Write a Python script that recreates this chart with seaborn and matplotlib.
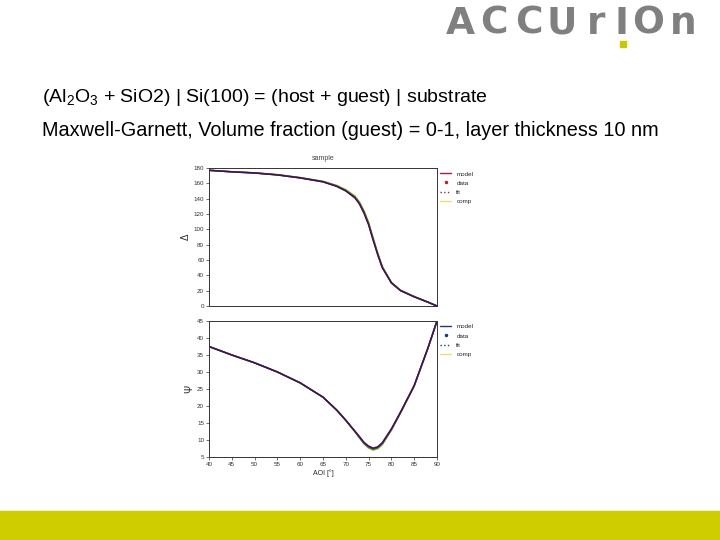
import pandas as pd
import numpy as np
import seaborn as sns
import matplotlib.pyplot as plt
from matplotlib.lines import Line2D
from matplotlib.patches import Rectangle

# angle of incidence grid
aoi = [40, 45, 50, 55, 60, 65, 68, 70, 72, 73, 74, 75, 76, 77, 78, 80, 82, 85, 88, 90]

# Delta curves, volume fraction (guest) 0 ... 1
delta_f0 = [177, 175.2, 173.8, 171.4, 167.6, 162.8, 157.4, 151.8, 143.6, 135.8, 124.6, 109.6, 89.0, 69.4, 51.8, 31.0, 20.6, 12.4, 5.2, 0]
delta_f1 = [177, 175.1, 173.6, 171.2, 167.4, 162.4, 156.8, 151.0, 142.6, 134.6, 123.0, 107.8, 87.6, 68.4, 51.0, 30.6, 20.4, 12.2, 5.1, 0]
delta_f2 = [177, 175.0, 173.5, 171.0, 167.2, 162.1, 156.4, 150.5, 141.8, 133.8, 121.9, 106.8, 86.6, 67.6, 50.4, 30.3, 20.2, 12.1, 5.0, 0]
delta_f3 = [177, 175.0, 173.5, 171.0, 167.0, 161.9, 156.0, 150.0, 141.0, 133.0, 121.0, 106.0, 86.0, 67.0, 50.0, 30.0, 20.0, 12.0, 5.0, 0]

# Psi curves
psi_f0 = [37.5, 35.0, 32.7, 30.0, 26.8, 22.6, 18.8, 15.8, 12.4, 10.6, 8.8, 7.6, 7.0, 7.4, 8.6, 12.9, 17.9, 25.9, 37.0, 45.0]
psi_f1 = [37.5, 35.0, 32.7, 30.0, 26.8, 22.6, 18.8, 15.8, 12.5, 10.7, 9.0, 7.8, 7.2, 7.6, 8.8, 13.0, 18.0, 25.9, 37.0, 45.0]
psi_f2 = [37.5, 35.0, 32.7, 30.0, 26.8, 22.6, 18.8, 15.8, 12.5, 10.8, 9.1, 8.0, 7.4, 7.8, 9.0, 13.1, 18.1, 26.0, 37.0, 45.0]
psi_f3 = [37.5, 35.0, 32.7, 30.0, 26.8, 22.6, 18.8, 15.8, 12.6, 11.0, 9.3, 8.2, 7.6, 8.0, 9.2, 13.3, 18.2, 26.0, 37.0, 45.0]

fractions = ["0", "0.33", "0.67", "1"]
curve_colors = ["#e0c800", "#3aa040", "#2a4cc0", "#4a1045"]

logo_letters = ["A", "C", "C", "U", "r", "I", "O", "n"]
logo_x = [460, 494, 529, 562, 596, 622, 648, 683]

dfd = pd.DataFrame({
    "AOI": aoi * 4,
    "value": delta_f0 + delta_f1 + delta_f2 + delta_f3,
    "fraction": sum([[f] * len(aoi) for f in fractions], []),
})
dfp = pd.DataFrame({
    "AOI": aoi * 4,
    "value": psi_f0 + psi_f1 + psi_f2 + psi_f3,
    "fraction": sum([[f] * len(aoi) for f in fractions], []),
})

sns.set_theme(style="white")
plt.rcParams['font.family'] = ['Liberation Sans', 'DejaVu Sans']

fig = plt.figure(figsize=(7.2, 5.4), dpi=100)

# slide text
fig.text(42/720, 1 - 97/540, r"(Al$_{\mathregular{2}}$O$_{\mathregular{3}}$ + SiO2) | Si(100) = (host + guest) | substrate",
         fontsize=14, va="center", ha="left", color="black")
fig.text(42/720, 1 - 131/540, "Maxwell-Garnett, Volume fraction (guest) = 0-1, layer thickness 10 nm",
         fontsize=14.3, va="center", ha="left", color="black")

# logo
for ch, lx in zip(logo_letters, logo_x):
    fig.text(lx/720, 1 - 24/540, ch, fontsize=27, color="#808080", ha="center", va="center",
             family="DejaVu Sans", fontweight="bold")
fig.patches.append(Rectangle((620/720, 1 - 47/540), 6/720, 6/540, transform=fig.transFigure,
                             color="#c8c800", figure=fig))
# footer bar
fig.patches.append(Rectangle((0, 0), 1, 29/540, transform=fig.transFigure, color="#cfcd00", figure=fig))

ax1 = fig.add_axes([209/720, 1 - 306/540, 228/720, 138/540])
ax2 = fig.add_axes([209/720, 1 - 457/540, 228/720, 136/540])

sns.lineplot(data=dfd, x="AOI", y="value", hue="fraction", palette=curve_colors,
             ax=ax1, legend=False, linewidth=1.1)
sns.lineplot(data=dfp, x="AOI", y="value", hue="fraction", palette=curve_colors,
             ax=ax2, legend=False, linewidth=1.1)

for ax in (ax1, ax2):
    ax.set_xlim(40, 90)
    for s in ax.spines.values():
        s.set_linewidth(0.7)
        s.set_color("#333333")
    ax.tick_params(axis="both", direction="out", length=2, width=0.5, labelsize=4.5,
                   left=True, bottom=True, pad=1.5, colors="#333333")

ax1.set_ylim(0, 180)
ax1.set_yticks(range(0, 181, 20))
ax1.set_xticks([])
ax1.set_xlabel("")
ax1.set_ylabel("Δ", fontsize=7, labelpad=2)
ax1.set_title("sample", fontsize=5, pad=6, color="#444444")

ax2.set_ylim(5, 45)
ax2.set_yticks(range(5, 46, 5))
ax2.set_xticks(range(40, 91, 5))
ax2.set_xlabel("AOI [°]", fontsize=5, labelpad=2)
ax2.set_ylabel("Ψ", fontsize=7, labelpad=2)

top_handles = [Line2D([], [], color="#a02040", lw=1),
               Line2D([], [], color="#c02020", ls="none", marker=".", ms=3),
               Line2D([], [], color="#a02040", ls=":", lw=1),
               Line2D([], [], color="#e8e070", lw=1)]
bot_handles = [Line2D([], [], color="#1a3a80", lw=1),
               Line2D([], [], color="#1a3a80", ls="none", marker=".", ms=3),
               Line2D([], [], color="#1a3a80", ls=":", lw=1),
               Line2D([], [], color="#e8e070", lw=1)]
names = ["model", "data", "fit", "comp"]
ax1.legend(top_handles, names, loc="upper left", bbox_to_anchor=(1.0, 1.0), fontsize=4.5,
           frameon=False, handlelength=1.8, borderaxespad=0.1, labelspacing=0.6)
ax2.legend(bot_handles, names, loc="upper left", bbox_to_anchor=(1.0, 1.0), fontsize=4.5,
           frameon=False, handlelength=1.8, borderaxespad=0.1, labelspacing=0.6)

plt.savefig("out.png", dpi=100)
